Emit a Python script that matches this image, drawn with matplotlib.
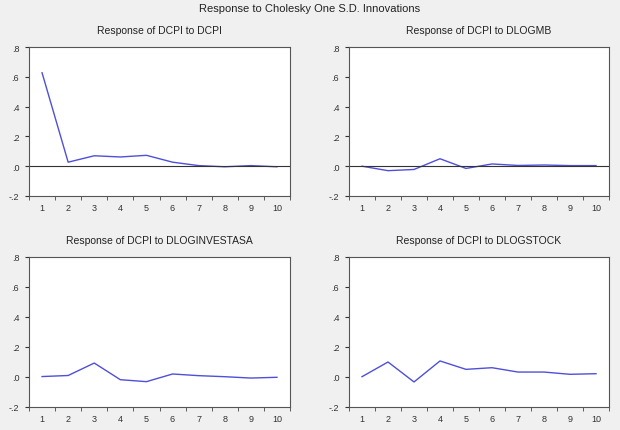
import matplotlib
matplotlib.use("Agg")
import matplotlib.pyplot as plt
import numpy as np

plt.rcParams['font.family'] = ['Liberation Sans', 'DejaVu Sans']

periods = [1, 2, 3, 4, 5, 6, 7, 8, 9, 10]
resp_dcpi = [0.627, 0.027, 0.070, 0.062, 0.073, 0.027, 0.004, -0.004, 0.004, -0.004]
resp_dlogmb = [0.0, -0.030, -0.022, 0.050, -0.015, 0.015, 0.005, 0.008, 0.004, 0.004]
resp_dloginvestasa = [0.003, 0.010, 0.093, -0.018, -0.031, 0.020, 0.009, 0.002, -0.007, -0.002]
resp_dlogstock = [0.002, 0.100, -0.033, 0.107, 0.051, 0.062, 0.033, 0.033, 0.018, 0.022]

titles = ["Response of DCPI to DCPI", "Response of DCPI to DLOGMB",
          "Response of DCPI to DLOGINVESTASA", "Response of DCPI to DLOGSTOCK"]
series = [resp_dcpi, resp_dlogmb, resp_dloginvestasa, resp_dlogstock]
show_zero = [True, True, False, False]
ytick_vals = [-0.2, 0.0, 0.2, 0.4, 0.6, 0.8]
ytick_labels = ["-.2", ".0", ".2", ".4", ".6", ".8"]

W, H = 620, 431
fig = plt.figure(figsize=(6.2, 4.31), dpi=100)
fig.patch.set_facecolor("#f0f0f0")

# axes boxes in pixels: (left, top, right, bottom)
boxes = [(29, 48, 290, 197), (349, 48, 609, 197),
         (29, 258, 290, 408), (349, 258, 609, 408)]

fig.text(310 / W, 1 - 9 / H, "Response to Cholesky One S.D. Innovations",
         ha="center", va="center", fontsize=8, color="#222222")

for box, title, vals, zline in zip(boxes, titles, series, show_zero):
    l, t, r, b = box
    ax = fig.add_axes([l / W, 1 - b / H, (r - l) / W, (b - t) / H])
    ax.set_facecolor("white")
    ax.plot(periods, vals, color="#4f4fda", lw=1.0)
    if zline:
        ax.axhline(0, color="#333333", lw=0.8)
    ax.set_xlim(0.5, 10.5)
    ax.set_ylim(-0.2, 0.8)
    ax.set_yticks(ytick_vals)
    ax.set_yticklabels(ytick_labels)
    ax.set_xticks(periods)
    ax.set_xticklabels([str(p) for p in periods])
    ax.set_xticks(np.arange(0.5, 11.0, 1.0), minor=True)
    ax.tick_params(axis="x", which="major", length=0, labelsize=6.5, colors="#333333", pad=5)
    ax.tick_params(axis="x", which="minor", length=3, direction="out", color="#444444")
    ax.tick_params(axis="y", which="major", length=3, direction="out", labelsize=6.5,
                   colors="#333333", pad=4)
    for s in ax.spines.values():
        s.set_color("#555555")
        s.set_linewidth(0.8)
    ax.set_title(title, fontsize=7.5, color="#222222", pad=10)

fig.savefig("out.png", dpi=100, facecolor=fig.get_facecolor())
